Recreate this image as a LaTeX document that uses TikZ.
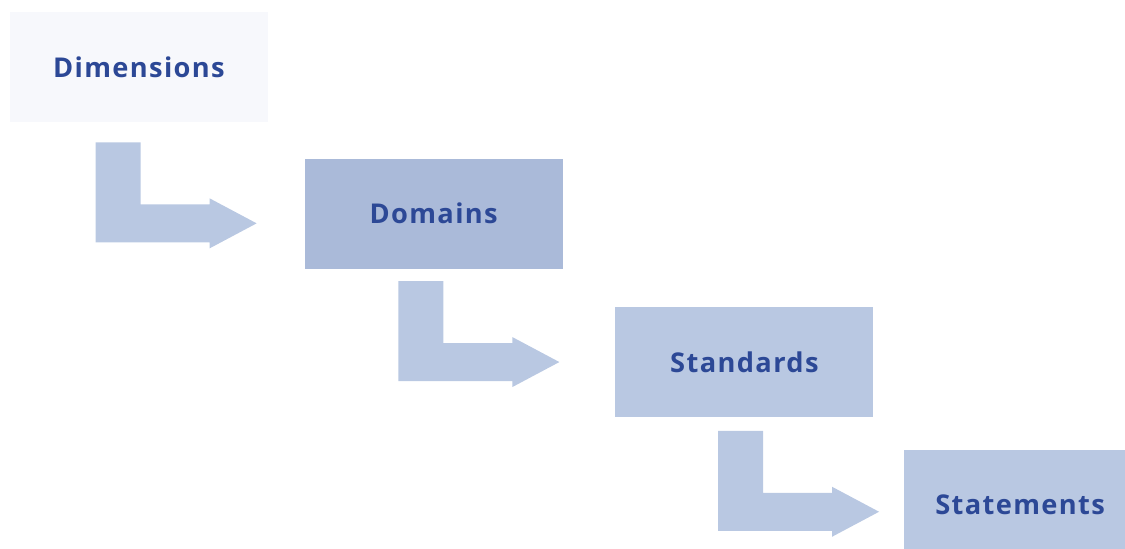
\documentclass[tikz,border=0pt]{standalone}
\usepackage{xcolor}
\usepackage{fontspec}
\setsansfont[LetterSpace=5]{Open Sans}
\usepackage{tikz}
\usetikzlibrary{positioning}

\definecolor{paleblue}{HTML}{F7F8FC}
\definecolor{midblue}{HTML}{AABAD9}
\definecolor{softblue}{HTML}{B9C8E2}
\definecolor{inkblue}{HTML}{2C4896}

% bent flow arrow, drawn down from its top-left corner
\newcommand{\bentarrow}[1]{%
  \fill[flow, shift={(#1)}] (0,0) -- (0.9,0) -- (0.9,-1.24) -- (2.28,-1.24) -- (2.28,-1.12)
    -- (3.22,-1.62) -- (2.28,-2.12) -- (2.28,-2.0) -- (0,-2.0) -- cycle;}

\begin{document}
\begin{tikzpicture}[font=\sffamily\bfseries\fontsize{15.5}{18}\selectfont]
                    % Define styles
                    \tikzstyle{level} = [rectangle, inner sep=0pt, text=inkblue, minimum width=5.16cm, minimum height=2.2cm]
                    \tikzstyle{flow} = [fill=softblue]

                    \clip (0,0) rectangle (22.5,-10.98);

                    % Nodes
                    \node [level, fill=paleblue] (dim) at (2.78,-1.34) {Dimensions};
                    \node [level, fill=midblue, below right=0.72cm and 0.72cm of dim.south east, anchor=north west] (dom) {Domains};
                    \node [level, fill=softblue, below right=0.76cm and 1.04cm of dom.south east, anchor=north west] (std) {Standards};
                    \node [level, fill=softblue, minimum width=4.64cm, below right=0.64cm and 0.6cm of std.south east, anchor=north west] (stm) {Statements};

                    % Arrows
                    \coordinate (a1) at ([xshift=1.72cm, yshift=-0.4cm] dim.south west);
                    \coordinate (a2) at ([xshift=1.88cm, yshift=-0.24cm] dom.south west);
                    \coordinate (a3) at ([xshift=2.06cm, yshift=-0.26cm] std.south west);
                    \bentarrow{a1}
                    \bentarrow{a2}
                    \bentarrow{a3}
                \end{tikzpicture}
\end{document}
